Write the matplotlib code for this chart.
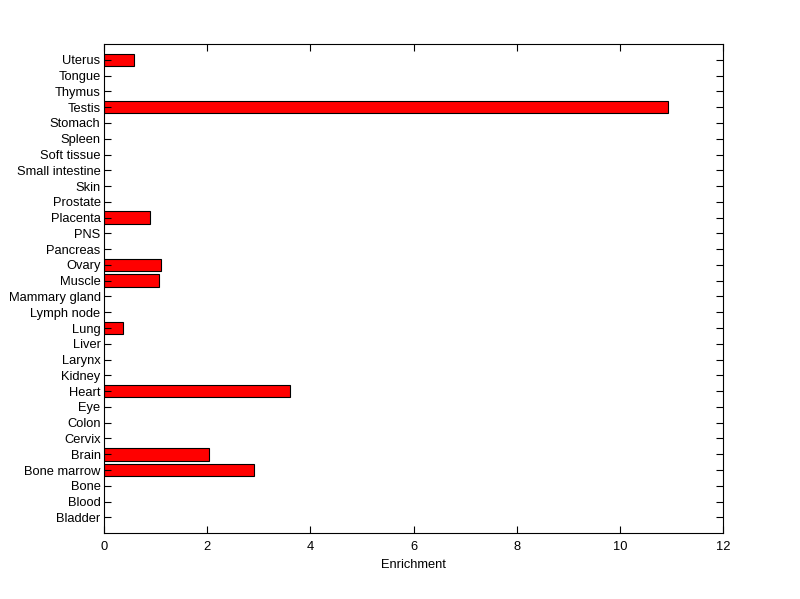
import matplotlib
matplotlib.use("Agg")
import matplotlib.pyplot as plt

tissues = ["Bladder", "Blood", "Bone", "Bone marrow", "Brain", "Cervix", "Colon", "Eye",
           "Heart", "Kidney", "Larynx", "Liver", "Lung", "Lymph node", "Mammary gland",
           "Muscle", "Ovary", "Pancreas", "PNS", "Placenta", "Prostate", "Skin",
           "Small intestine", "Soft tissue", "Spleen", "Stomach", "Testis", "Thymus",
           "Tongue", "Uterus"]
enrichment = [0, 0, 0, 2.91, 2.04, 0, 0, 0,
              3.61, 0, 0, 0, 0.37, 0, 0,
              1.07, 1.11, 0, 0, 0.89, 0, 0,
              0, 0, 0, 0, 10.93, 0,
              0, 0.58]
xticks = [0, 2, 4, 6, 8, 10, 12]

plt.rcParams['font.family'] = ['Liberation Sans', 'DejaVu Sans']
fig = plt.figure(figsize=(8, 5.99), dpi=100)
ax = fig.add_axes([0.13, 0.11, 0.774, 0.8164])
pos = list(range(1, len(tissues) + 1))
nz = [(p, v) for p, v in zip(pos, enrichment) if v > 0]
ax.barh([p for p, v in nz], [v for p, v in nz], height=0.8, color='#ff0000',
        edgecolor='black', linewidth=0.8)
ax.set_xlim(0, 12)
ax.set_ylim(0, len(tissues) + 1)
ax.set_yticks(pos)
ax.set_yticklabels(tissues)
ax.set_xticks(xticks)
ax.tick_params(direction='in', length=5, width=0.8, labelsize=9.3,
               top=True, right=True, pad=2.5)
ax.tick_params(axis='x', pad=6)
for s in ax.spines.values():
    s.set_linewidth(0.8)
ax.set_xlabel("Enrichment", fontsize=9.3, labelpad=4)
fig.savefig("out.png", dpi=100)
